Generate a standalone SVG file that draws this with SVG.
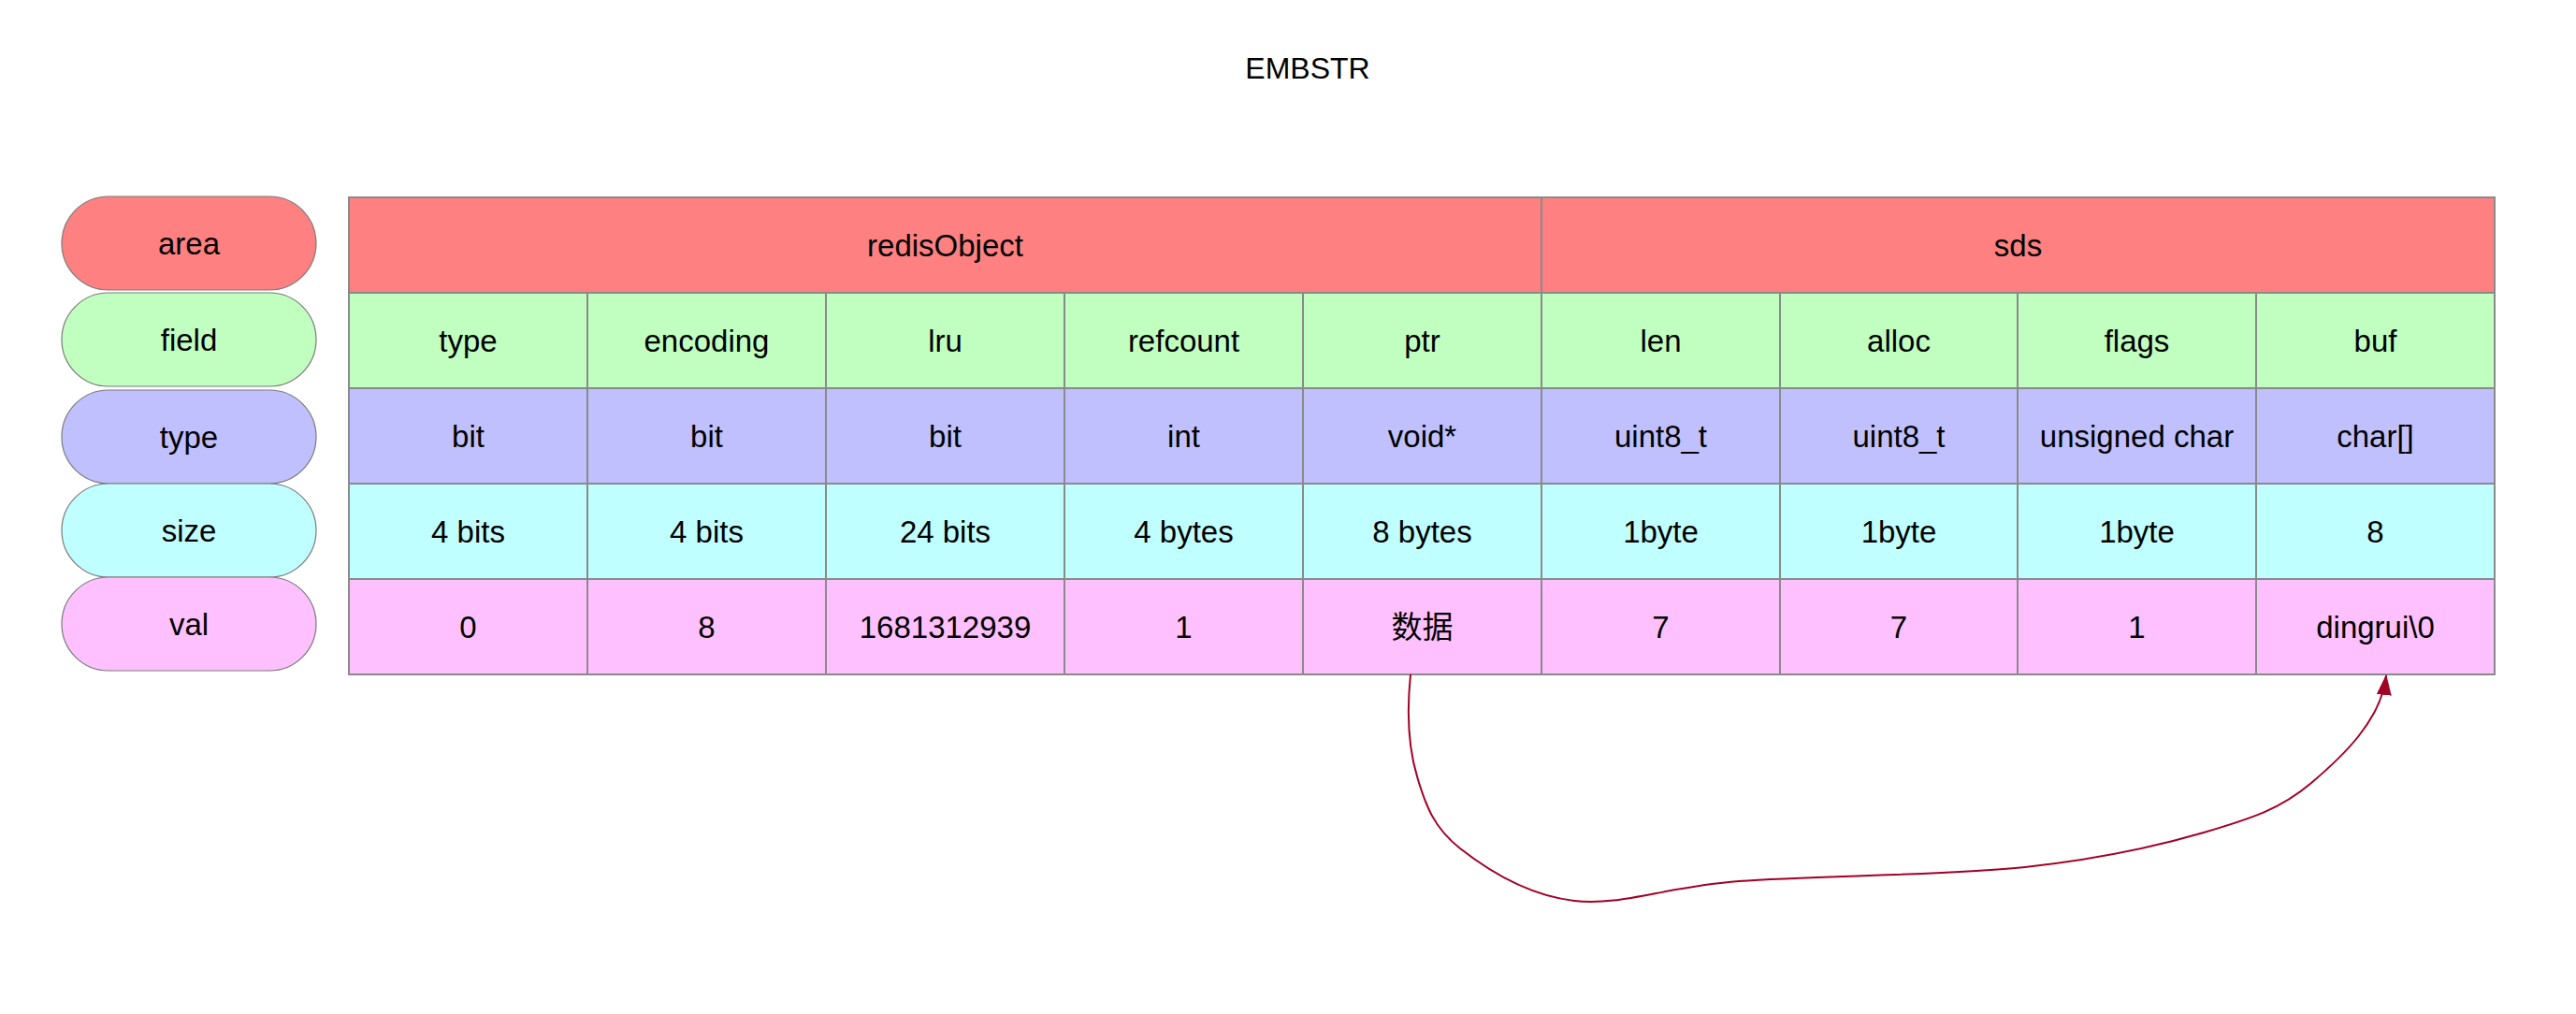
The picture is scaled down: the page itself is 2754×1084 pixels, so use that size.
<svg xmlns="http://www.w3.org/2000/svg" width="2754" height="1084" viewBox="0 0 2754 1084">
<style>
text{font-family:"Liberation Sans",Arial,"Noto Sans CJK SC",sans-serif;font-size:33px;fill:#000;text-anchor:middle}
.pill{stroke:#7a7a7a;stroke-width:1.2}
.cell{stroke:#8a8a8a;stroke-width:2}
.r{fill:#FF8080}.g{fill:#C0FFC0}.b{fill:#C0C0FF}.c{fill:#C0FFFF}.p{fill:#FFC0FF}
.edge{fill:none;stroke:#A20025;stroke-width:2}
</style>
<defs>
<marker id="arr" viewBox="0 0 22 16" refX="21" refY="8" markerWidth="22" markerHeight="16" markerUnits="userSpaceOnUse" orient="auto">
<path d="M0,0 L22,8 L0,16 Z" fill="#A20025"/>
</marker>
</defs>
<rect width="2754" height="1084" fill="#fff"/>
<text id="title" x="1398" y="84" style="font-size:32px">EMBSTR</text>

<g id="legend">
<g id="leg-area"><rect class="pill r" x="66" y="210" width="272" height="100" rx="50"/><text x="202" y="272">area</text></g>
<g id="leg-field"><rect class="pill g" x="66" y="313" width="272" height="100" rx="50"/><text x="202" y="375">field</text></g>
<g id="leg-type"><rect class="pill b" x="66" y="417" width="272" height="100" rx="50"/><text x="202" y="479">type</text></g>
<g id="leg-size"><rect class="pill c" x="66" y="517" width="272" height="100" rx="50"/><text x="202" y="579">size</text></g>
<g id="leg-val"><rect class="pill p" x="66" y="617" width="272" height="100" rx="50"/><text x="202" y="679">val</text></g>
</g>

<g id="table">
<g id="area-row">
<g id="redisObject"><rect class="cell r" x="373" y="211" width="1275" height="102"/><text x="1010.5" y="274">redisObject</text></g>
<g id="sds"><rect class="cell r" x="1648" y="211" width="1019" height="102"/><text x="2157.5" y="274">sds</text></g>
</g>
<g id="field-row">
<g id="f-type"><rect class="cell g" x="373" y="313" width="255" height="102"/><text x="500.5" y="376">type</text></g>
<g id="f-encoding"><rect class="cell g" x="628" y="313" width="255" height="102"/><text x="755.5" y="376">encoding</text></g>
<g id="f-lru"><rect class="cell g" x="883" y="313" width="255" height="102"/><text x="1010.5" y="376">lru</text></g>
<g id="f-refcount"><rect class="cell g" x="1138" y="313" width="255" height="102"/><text x="1265.5" y="376">refcount</text></g>
<g id="f-ptr"><rect class="cell g" x="1393" y="313" width="255" height="102"/><text x="1520.5" y="376">ptr</text></g>
<g id="f-len"><rect class="cell g" x="1648" y="313" width="255" height="102"/><text x="1775.5" y="376">len</text></g>
<g id="f-alloc"><rect class="cell g" x="1903" y="313" width="254" height="102"/><text x="2030" y="376">alloc</text></g>
<g id="f-flags"><rect class="cell g" x="2157" y="313" width="255" height="102"/><text x="2284.5" y="376">flags</text></g>
<g id="f-buf"><rect class="cell g" x="2412" y="313" width="255" height="102"/><text x="2539.5" y="376">buf</text></g>
</g>
<g id="type-row">
<g id="t-type"><rect class="cell b" x="373" y="415" width="255" height="102"/><text x="500.5" y="478">bit</text></g>
<g id="t-encoding"><rect class="cell b" x="628" y="415" width="255" height="102"/><text x="755.5" y="478">bit</text></g>
<g id="t-lru"><rect class="cell b" x="883" y="415" width="255" height="102"/><text x="1010.5" y="478">bit</text></g>
<g id="t-refcount"><rect class="cell b" x="1138" y="415" width="255" height="102"/><text x="1265.5" y="478">int</text></g>
<g id="t-ptr"><rect class="cell b" x="1393" y="415" width="255" height="102"/><text x="1520.5" y="478">void*</text></g>
<g id="t-len"><rect class="cell b" x="1648" y="415" width="255" height="102"/><text x="1775.5" y="478">uint8_t</text></g>
<g id="t-alloc"><rect class="cell b" x="1903" y="415" width="254" height="102"/><text x="2030" y="478">uint8_t</text></g>
<g id="t-flags"><rect class="cell b" x="2157" y="415" width="255" height="102"/><text x="2284.5" y="478">unsigned char</text></g>
<g id="t-buf"><rect class="cell b" x="2412" y="415" width="255" height="102"/><text x="2539.5" y="478">char[]</text></g>
</g>
<g id="size-row">
<g id="s-type"><rect class="cell c" x="373" y="517" width="255" height="102"/><text x="500.5" y="580">4 bits</text></g>
<g id="s-encoding"><rect class="cell c" x="628" y="517" width="255" height="102"/><text x="755.5" y="580">4 bits</text></g>
<g id="s-lru"><rect class="cell c" x="883" y="517" width="255" height="102"/><text x="1010.5" y="580">24 bits</text></g>
<g id="s-refcount"><rect class="cell c" x="1138" y="517" width="255" height="102"/><text x="1265.5" y="580">4 bytes</text></g>
<g id="s-ptr"><rect class="cell c" x="1393" y="517" width="255" height="102"/><text x="1520.5" y="580">8 bytes</text></g>
<g id="s-len"><rect class="cell c" x="1648" y="517" width="255" height="102"/><text x="1775.5" y="580">1byte</text></g>
<g id="s-alloc"><rect class="cell c" x="1903" y="517" width="254" height="102"/><text x="2030" y="580">1byte</text></g>
<g id="s-flags"><rect class="cell c" x="2157" y="517" width="255" height="102"/><text x="2284.5" y="580">1byte</text></g>
<g id="s-buf"><rect class="cell c" x="2412" y="517" width="255" height="102"/><text x="2539.5" y="580">8</text></g>
</g>
<g id="val-row">
<g id="v-type"><rect class="cell p" x="373" y="619" width="255" height="102"/><text x="500.5" y="682">0</text></g>
<g id="v-encoding"><rect class="cell p" x="628" y="619" width="255" height="102"/><text x="755.5" y="682">8</text></g>
<g id="v-lru"><rect class="cell p" x="883" y="619" width="255" height="102"/><text x="1010.5" y="682">1681312939</text></g>
<g id="v-refcount"><rect class="cell p" x="1138" y="619" width="255" height="102"/><text x="1265.5" y="682">1</text></g>
<g id="v-ptr"><rect class="cell p" x="1393" y="619" width="255" height="102"/><text x="1520.5" y="682">数据</text></g>
<g id="v-len"><rect class="cell p" x="1648" y="619" width="255" height="102"/><text x="1775.5" y="682">7</text></g>
<g id="v-alloc"><rect class="cell p" x="1903" y="619" width="254" height="102"/><text x="2030" y="682">7</text></g>
<g id="v-flags"><rect class="cell p" x="2157" y="619" width="255" height="102"/><text x="2284.5" y="682">1</text></g>
<g id="v-buf"><rect class="cell p" x="2412" y="619" width="255" height="102"/><text x="2539.5" y="682">dingrui\0</text></g>
</g>
</g>

<g id="connectors">
<path class="edge" marker-end="url(#arr)" d="M1508,721 C1504,760 1506,800 1515,830 C1524,861 1533,885 1561,907 C1589,929 1633,957 1683,963 C1733,969 1779,948 1859,942 C1939,936 2082,936 2165,927 C2248,918 2305,905 2356,890 C2407,875 2438,865 2471,837 C2504,809 2546,770 2551,722"/>
</g>
</svg>
